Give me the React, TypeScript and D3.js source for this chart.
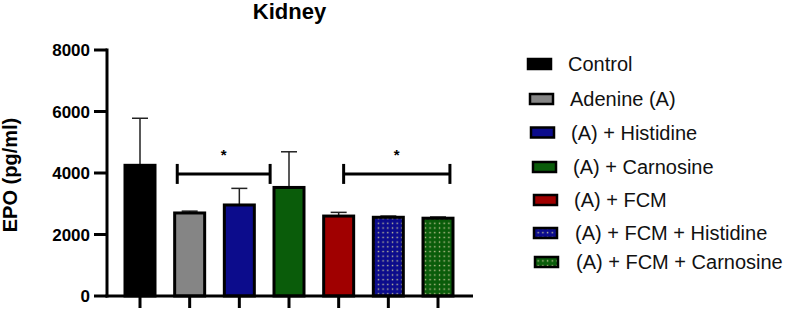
import React from "react";
import * as d3 from "d3";

const categories = ["Control", "Adenine (A)", "(A) + Histidine", "(A) + Carnosine", "(A) + FCM", "(A) + FCM + Histidine", "(A) + FCM + Carnosine"];
const means = [4250, 2700, 2960, 3530, 2600, 2560, 2530];
const errors = [1530, 60, 540, 1160, 120, 40, 40];
const fills = ["#000000", "#858585", "#0c0c8c", "#0a5c0a", "#a00000", "#0c0c8c", "#0a5c0a"];
const dotted = [false, false, false, false, false, true, true];
const yTicks = [0, 2000, 4000, 6000, 8000];
const brackets = [
  { from: 0.75, to: 2.62, value: 3970, label: "*" },
  { from: 4.1, to: 6.24, value: 3970, label: "*" },
];

export default function App() {
  const W = 785, H = 310;
  const y = d3.scaleLinear().domain([0, 8000]).range([296, 50]);
  const xi = d3.scaleLinear().domain([0, 6]).range([140, 438]);
  const barW = 30;
  const font = "'Liberation Sans', Arial, sans-serif";
  const legendY = [64, 99, 132.5, 167, 200, 233, 262];
  const legendSwX = [527, 529, 530, 532, 533, 533, 534];
  const legendTxX = [568, 570, 571, 573, 574, 575, 576];

  return (
    <svg width={W} height={H} style={{ position: "absolute", left: 0, top: 0 }} fontFamily={font}>
      <defs>
        {fills.map((f, i) => (
          <pattern key={i} id={`dots${i}`} width={4.7} height={4.7} patternUnits="userSpaceOnUse">
            <rect width={4.7} height={4.7} fill={f} />
            <rect x={1.7} y={1.7} width={1.4} height={1.4} fill="#c9c99a" />
          </pattern>
        ))}
      </defs>
      <text x={289.5} y={18.5} textAnchor="middle" fontWeight="bold" fontSize={22}>Kidney</text>
      <text transform={`translate(17,175) rotate(-90)`} textAnchor="middle" fontWeight="bold" fontSize={20}>EPO (pg/ml)</text>

      {/* bars */}
      {means.map((m, i) => (
        <g key={i}>
          <line x1={xi(i)} x2={xi(i)} y1={y(m)} y2={y(m + errors[i])} stroke="#222" strokeWidth={1.5} />
          <line x1={xi(i) - 8} x2={xi(i) + 8} y1={y(m + errors[i])} y2={y(m + errors[i])} stroke="#222" strokeWidth={1.5} />
          <rect x={xi(i) - barW / 2} y={y(m)} width={barW} height={y(0) - y(m)}
            fill={dotted[i] ? `url(#dots${i})` : fills[i]} stroke="#000" strokeWidth={3} />
        </g>
      ))}

      {/* axes */}
      <line x1={107} x2={107} y1={y(8000) - 1.5} y2={y(0) + 1.5} stroke="#000" strokeWidth={3} />
      <line x1={105.5} x2={473} y1={y(0)} y2={y(0)} stroke="#000" strokeWidth={3} />
      {yTicks.map((t) => (
        <g key={t}>
          <line x1={94} x2={107} y1={y(t)} y2={y(t)} stroke="#000" strokeWidth={3} />
          <text x={90} y={y(t)} dy="0.36em" textAnchor="end" fontWeight="bold" fontSize={17}>{t}</text>
        </g>
      ))}
      {categories.map((c, i) => (
        <line key={c} x1={xi(i)} x2={xi(i)} y1={y(0)} y2={y(0) + 12} stroke="#000" strokeWidth={3} />
      ))}

      {/* significance */}
      {brackets.map((b, i) => (
        <g key={i}>
          <line x1={xi(b.from)} x2={xi(b.to)} y1={y(b.value)} y2={y(b.value)} stroke="#000" strokeWidth={3} />
          <line x1={xi(b.from)} x2={xi(b.from)} y1={y(b.value) - 10} y2={y(b.value) + 10} stroke="#000" strokeWidth={3} />
          <line x1={xi(b.to)} x2={xi(b.to)} y1={y(b.value) - 10} y2={y(b.value) + 10} stroke="#000" strokeWidth={3} />
          <text x={(xi(b.from) + xi(b.to)) / 2} y={y(b.value) - 14} textAnchor="middle" fontWeight="bold" fontSize={15}>{b.label}</text>
        </g>
      ))}

      {/* legend */}
      {categories.map((c, i) => (
        <g key={c}>
          <rect x={legendSwX[i] + 1} y={legendY[i] - 5} width={23} height={10}
            fill={dotted[i] ? `url(#dots${i})` : fills[i]} stroke="#000" strokeWidth={2.5} />
          <text x={legendTxX[i]} y={legendY[i]} dy="0.36em" fontSize={20} fill="#111">{c}</text>
        </g>
      ))}
    </svg>
  );
}
